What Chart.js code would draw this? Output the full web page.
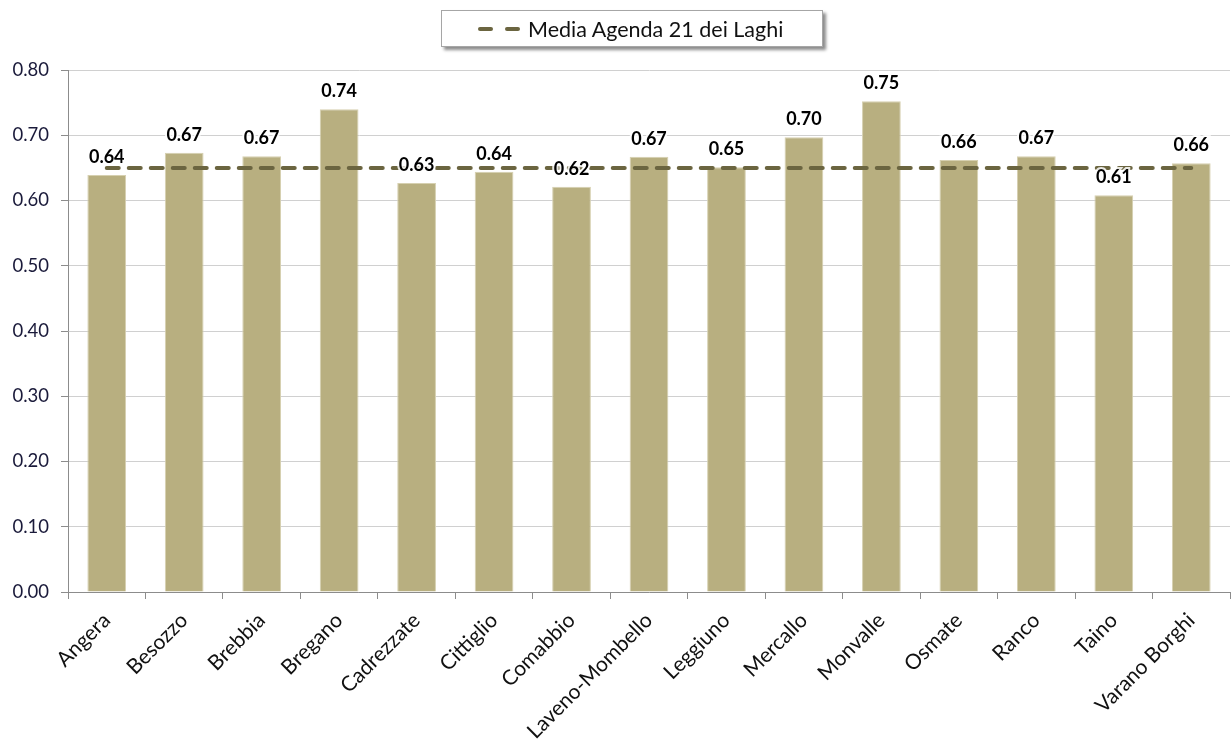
<!DOCTYPE html>
<html>
<head>
<meta charset="utf-8">
<script src="https://cdn.jsdelivr.net/npm/chart.js@4"></script>
<style>
    body { margin: 0; background: #fff; }
    #wrap { position: relative; width: 1231px; height: 750px; }
    #legend {
        position: absolute; left: 441px; top: 10px; width: 380px; height: 35px;
        border: 1px solid #a6a6a6; background: #fff;
        box-shadow: 3px 3px 3px #8c8c8c;
        font-family: Lato, "Open Sans", sans-serif; font-size: 21.5px; color: #111;
        display: flex; align-items: center;
    }
    #legend .dash { width: 15px; height: 4px; background: #6b6540; border-radius: 2px; }
</style>
</head>
<body>
<div id="wrap">
    <canvas id="chart" width="1231" height="750"></canvas>
    <div id="legend">
        <span class="dash" style="margin-left:36px"></span>
        <span class="dash" style="margin-left:12px; margin-right:8px"></span>
        <span>Media Agenda 21 dei Laghi</span>
    </div>
</div>
<script>
// municipalities
const comuni = ['Angera', 'Besozzo', 'Brebbia', 'Bregano', 'Cadrezzate', 'Cittiglio', 'Comabbio',
    'Laveno-Mombello', 'Leggiuno', 'Mercallo', 'Monvalle', 'Osmate', 'Ranco', 'Taino', 'Varano Borghi'];
// index per comune
const valori = [0.639, 0.673, 0.668, 0.740, 0.627, 0.644, 0.621, 0.667, 0.651, 0.697, 0.752, 0.662, 0.668, 0.608, 0.657];
// average of the area
const media = [0.65, 0.65, 0.65, 0.65, 0.65, 0.65, 0.65, 0.65, 0.65, 0.65, 0.65, 0.65, 0.65, 0.65, 0.65];
const yTicks = [0, 0.1, 0.2, 0.3, 0.4, 0.5, 0.6, 0.7, 0.8];

/*
*   Writes the value above each bar, with a white halo
*/
const barLabels = {
    id: 'barLabels',
    afterDatasetsDraw(chart) {
        const ctx = chart.ctx;
        const meta = chart.getDatasetMeta(0);
        ctx.save();
        ctx.font = 'bold 18px Lato, "Open Sans", sans-serif';
        ctx.textAlign = 'center';
        ctx.textBaseline = 'middle';
        meta.data.forEach((bar, i) => {
            let txt = valori[i].toFixed(2);
            ctx.lineWidth = 4;
            ctx.strokeStyle = 'rgba(255,255,255,0.85)';
            ctx.strokeText(txt, bar.x, bar.y - 18);
            ctx.fillStyle = '#000';
            ctx.fillText(txt, bar.x, bar.y - 18);
        });
        ctx.restore();
    }
};

let ctx = document.getElementById('chart').getContext('2d');
let chart = new Chart(ctx, {
    type: 'bar',
    data: {
        labels: comuni,
        datasets: [
            {
                label: 'Valore',
                data: valori,
                backgroundColor: '#b8af80',
                borderColor: '#d6d0b0',
                borderWidth: 1,
                barPercentage: 0.5,
                categoryPercentage: 1,
                order: 1
            },
            {
                type: 'line',
                label: 'Media Agenda 21 dei Laghi',
                data: media,
                borderColor: '#6b6540',
                borderWidth: 4,
                borderDash: [12, 10],
                borderCapStyle: 'round',
                pointRadius: 0,
                fill: false,
                order: 0
            }
        ]
    },
    options: {
        responsive: false,
        animation: false,
        layout: { padding: { top: 70, right: 1, left: 0, bottom: 0 } },
        plugins: {
            legend: { display: false },
            tooltip: { enabled: false }
        },
        scales: {
            x: {
                afterFit: axis => { axis.height = 158; },
                grid: { display: true, drawOnChartArea: false, offset: true, color: '#8c8c8c', tickLength: 7 },
                border: { color: '#8c8c8c' },
                ticks: {
                    color: '#111',
                    font: { family: 'Lato, "Open Sans", sans-serif', size: 21 },
                    minRotation: 45, maxRotation: 45, padding: 9, autoSkip: false
                }
            },
            y: {
                min: 0, max: 0.8,
                afterBuildTicks: axis => { axis.ticks = yTicks.map(v => ({ value: v })); },
                afterFit: axis => { axis.width = 68; },
                grid: { color: '#d0d0d0', tickLength: 7, tickColor: '#8c8c8c' },
                border: { color: '#8c8c8c' },
                ticks: {
                    color: '#1a1a3a',
                    font: { family: 'Lato, "Open Sans", sans-serif', size: 18.5 },
                    padding: 12,
                    callback: v => v.toFixed(2)
                }
            }
        }
    },
    plugins: [barLabels]
});
</script>
</body>
</html>
